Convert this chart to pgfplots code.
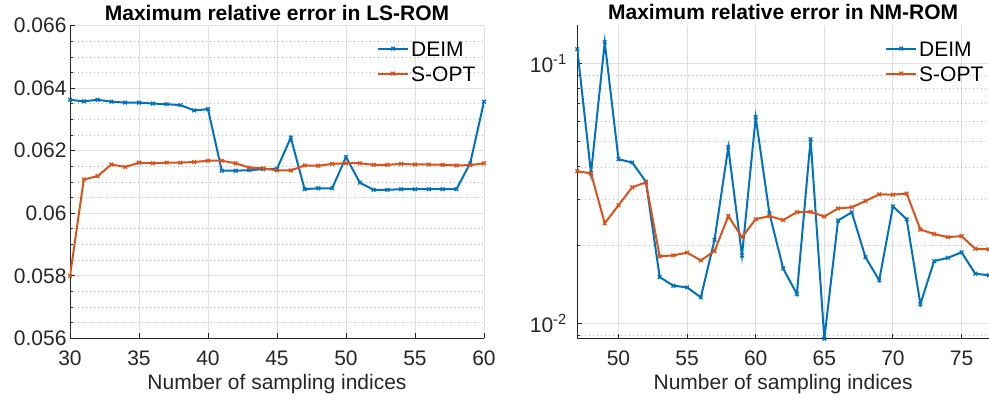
\documentclass[border=0pt]{standalone}
\usepackage{fontspec}
\setmainfont{Liberation Sans}
\usepackage{pgfplots}
\pgfplotsset{compat=1.18}
\definecolor{mblue}{rgb}{0,0.447,0.741}
\definecolor{morange}{rgb}{0.85,0.325,0.098}
\definecolor{axgray}{HTML}{262626}
\definecolor{gridgray}{HTML}{E0E0E0}
\definecolor{dotgray}{HTML}{B8B8B8}
\pgfplotsset{
 every axis title/.style={at={(0.5,1)}, anchor=base, yshift=5.5pt, inner sep=0pt, font=\fontsize{21}{25}\selectfont\bfseries},
 mystyle/.style={
  scale only axis, anchor=south west,
  axis lines*=left,
  axis line style={axgray, line width=0.9pt},
  tick align=inside,
  tick style={axgray, line width=0.9pt},
  major tick length=5pt, minor tick length=3pt,
  font=\fontsize{21}{25}\selectfont,
  tick label style={text=axgray, font=\fontsize{21}{25}\selectfont},
  /pgf/number format/assume math mode=true,
  xmajorgrids, ymajorgrids, yminorgrids,
  major grid style={gridgray, line width=0.9pt},
  minor grid style={dotgray, line width=0.8pt, dash pattern=on 0.8pt off 3.2pt},
  xlabel style={at={(0.5,0)}, anchor=base, yshift=-51pt, inner sep=0pt, text=axgray},
  xticklabel style={anchor=base, yshift=-26.7pt},
  legend style={draw=none, fill=none, anchor=north west, inner sep=0pt,
     font=\fontsize{21}{25}\selectfont, text=black,
     nodes={inner sep=2pt, text height=15pt, text depth=0pt},
     row sep=6pt},
  legend cell align=left,
  legend image code/.code={\draw[mark repeat=2,mark phase=2,#1] plot coordinates {(0pt,0pt) (15pt,0pt) (30pt,0pt)};},
  every axis plot/.append style={line width=2pt, mark=x, mark size=2.6pt, mark options={line width=1.3pt, solid}},
 }
}
\begin{document}
\begin{tikzpicture}[x=1pt,y=1pt]
\useasboundingbox (0,0) rectangle (989,402);
\begin{axis}[mystyle,
  at={(70pt,63.7pt)}, width=414pt, height=312.6pt,
  xmin=30, xmax=60, ymin=0.056, ymax=0.066,
  xtick={30,35,...,60},
  ytick={0.056,0.058,0.060,0.062,0.064,0.066},
  minor y tick num=3,
  scaled y ticks=false,
  yticklabel style={/pgf/number format/fixed, /pgf/number format/precision=3},
  title={Maximum relative error in LS-ROM},
  xlabel={Number of sampling indices},
  legend style={at={(0.7415,0.958)}},
]
\addplot[mblue] coordinates {
(30,0.06363) (31,0.06358) (32,0.06363) (33,0.06357) (34,0.06354) (35,0.06354)
(36,0.06351) (37,0.06349) (38,0.06346) (39,0.06329) (40,0.06333) (41,0.06136)
(42,0.06136) (43,0.06138) (44,0.06141) (45,0.06142) (46,0.06242) (47,0.06077)
(48,0.06080) (49,0.06080) (50,0.06180) (51,0.06098) (52,0.06075) (53,0.06075)
(54,0.06077) (55,0.06077) (56,0.06077) (57,0.06077) (58,0.06077) (59,0.06160)
(60,0.06357)};
\addlegendentry{DEIM}
\addplot[morange] coordinates {
(30,0.05800) (31,0.06108) (32,0.06119) (33,0.06156) (34,0.06148) (35,0.06162)
(36,0.06160) (37,0.06162) (38,0.06162) (39,0.06164) (40,0.06168) (41,0.06168)
(42,0.06160) (43,0.06146) (44,0.06144) (45,0.06137) (46,0.06137) (47,0.06153)
(48,0.06152) (49,0.06158) (50,0.06160) (51,0.06160) (52,0.06155) (53,0.06155)
(54,0.06158) (55,0.06156) (56,0.06156) (57,0.06155) (58,0.06153) (59,0.06154)
(60,0.06160)};
\addlegendentry{S-OPT}
\end{axis}
\begin{axis}[mystyle,
  at={(577.3pt,63.3pt)}, width=411.7pt, height=313.7pt,
  ymode=log,
  xmin=47, xmax=77, ymin=0.008757, ymax=0.1403,
  xtick={50,55,...,75},
  ytick={0.01,0.1},
  yticklabels={{10\textsuperscript{-2}},{10\textsuperscript{-1}}},
  minor ytick={0.009,0.02,0.03,0.04,0.05,0.06,0.07,0.08,0.09},
  yticklabel style={xshift=-7pt},
  title={Maximum relative error in NM-ROM},
  xlabel={Number of sampling indices},
  legend style={at={(0.7474,0.956)}},
]
\addplot[mblue] coordinates {
(47,0.1132) (48,0.0378) (49,0.1205) (50,0.0428) (51,0.0416) (52,0.0351)
(53,0.01511) (54,0.01399) (55,0.01379) (56,0.01262) (57,0.0210) (58,0.0476)
(59,0.01827) (60,0.0620) (61,0.0265) (62,0.0163) (63,0.0130) (64,0.0511)
(65,0.00876) (66,0.0249) (67,0.0268) (68,0.0180) (69,0.01468) (70,0.0282)
(71,0.0252) (72,0.01189) (73,0.0174) (74,0.0179) (75,0.0188) (76,0.01556)
(77,0.01535)};
\addlegendentry{DEIM}
\addplot[morange] coordinates {
(47,0.0385) (48,0.0378) (49,0.0243) (50,0.0285) (51,0.0334) (52,0.0349)
(53,0.01815) (54,0.0183) (55,0.01875) (56,0.01750) (57,0.0190) (58,0.0259)
(59,0.0215) (60,0.0252) (61,0.0259) (62,0.0250) (63,0.0268) (64,0.0269)
(65,0.0258) (66,0.0277) (67,0.0280) (68,0.0296) (69,0.0314) (70,0.0313)
(71,0.0316) (72,0.0230) (73,0.0221) (74,0.0215) (75,0.0217) (76,0.0194)
(77,0.0193)};
\addlegendentry{S-OPT}
\end{axis}
\end{tikzpicture}
\end{document}
